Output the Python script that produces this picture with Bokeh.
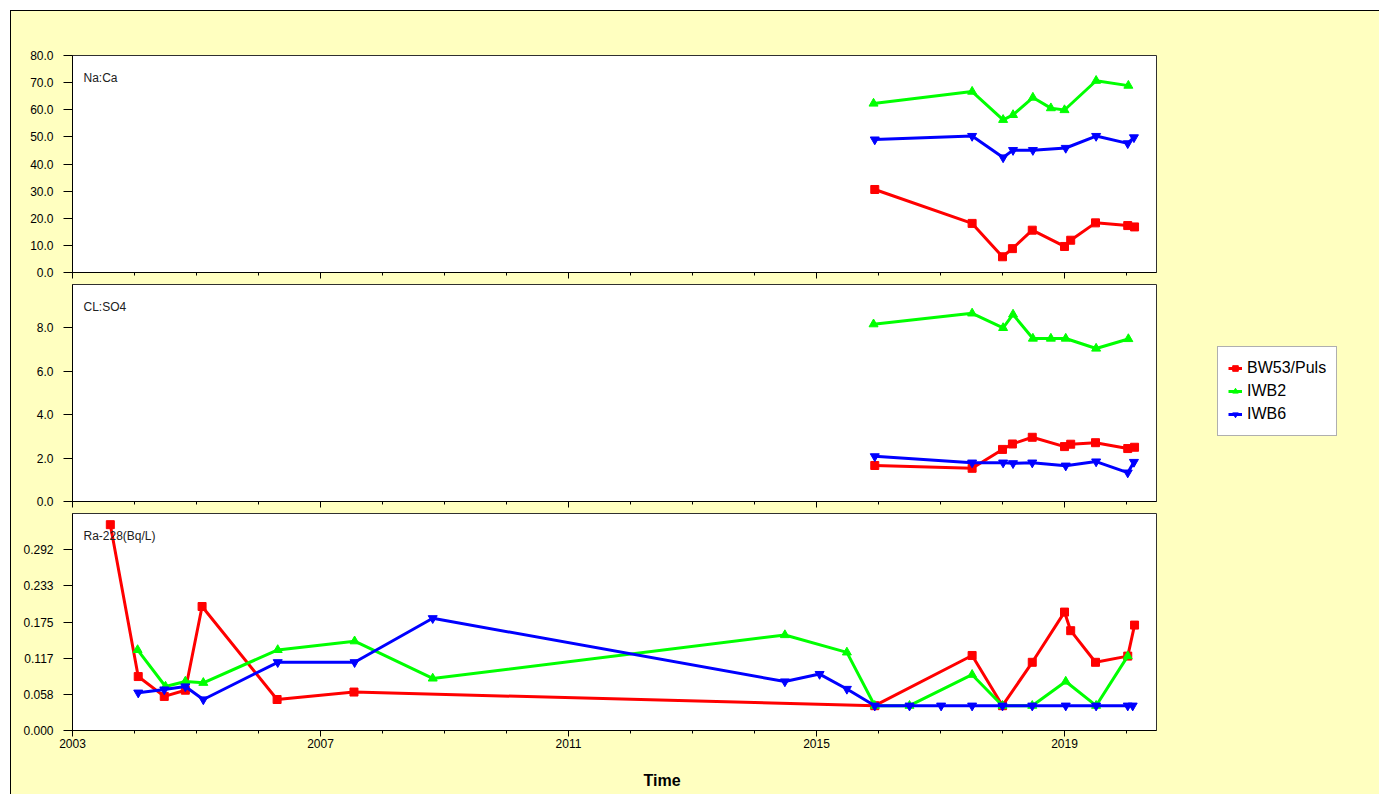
from bokeh.plotting import figure
from bokeh.models import (FixedTicker, NumeralTickFormatter, Range1d, Label, Legend, LegendItem,
                          Title, LinearAxis)
from bokeh.layouts import column
from bokeh.embed import file_html
from bokeh.resources import INLINE
import numpy as np

# ---------------- data (decimal years, values) ----------------
series_names = ["BW53/Puls", "IWB2", "IWB6"]
panel_titles = ["Na:Ca", "CL:SO4", "Ra-228(Bq/L)"]
x_tick_labels = [2003, 2007, 2011, 2015, 2019]

naca_bw53_t = [2015.94, 2017.51, 2018.00, 2018.16, 2018.48, 2019.00, 2019.10, 2019.50, 2020.02, 2020.13]
naca_bw53_v = [30.6, 18.1, 5.8, 8.8, 15.6, 9.6, 11.9, 18.3, 17.3, 16.8]
naca_iwb2_t = [2015.92, 2017.51, 2018.01, 2018.17, 2018.49, 2018.78, 2019.00, 2019.51, 2020.03]
naca_iwb2_v = [62.3, 66.7, 56.3, 58.1, 64.5, 60.6, 59.9, 70.7, 68.9]
naca_iwb6_t = [2015.94, 2017.51, 2018.01, 2018.17, 2018.49, 2019.02, 2019.51, 2020.02, 2020.12]
naca_iwb6_v = [49.0, 50.3, 42.4, 45.1, 45.1, 45.9, 50.3, 47.6, 49.8]

clso4_bw53_t = [2015.94, 2017.51, 2018.00, 2018.16, 2018.48, 2019.00, 2019.10, 2019.50, 2020.02, 2020.13]
clso4_bw53_v = [1.66, 1.53, 2.40, 2.65, 2.96, 2.53, 2.64, 2.71, 2.44, 2.50]
clso4_iwb2_t = [2015.92, 2017.51, 2018.01, 2018.17, 2018.49, 2018.78, 2019.02, 2019.51, 2020.03]
clso4_iwb2_v = [8.17, 8.67, 8.00, 8.62, 7.51, 7.51, 7.51, 7.05, 7.49]
clso4_iwb6_t = [2015.94, 2017.51, 2018.01, 2018.17, 2018.48, 2019.02, 2019.51, 2020.02, 2020.12]
clso4_iwb6_v = [2.08, 1.79, 1.79, 1.76, 1.79, 1.65, 1.84, 1.33, 1.82]

ra_bw53_t = [2003.61, 2004.06, 2004.48, 2004.82, 2005.09, 2006.30, 2007.54, 2015.94,
             2017.51, 2018.00, 2018.48, 2019.00, 2019.10, 2019.50, 2020.02, 2020.13]
ra_bw53_v = [0.332, 0.087, 0.055, 0.065, 0.200, 0.050, 0.062, 0.040,
             0.121, 0.040, 0.110, 0.191, 0.161, 0.110, 0.120, 0.170]
ra_iwb2_t = [2004.05, 2004.50, 2004.82, 2005.11, 2006.31, 2007.55, 2008.81, 2014.49, 2015.49,
             2015.94, 2016.50, 2017.51, 2018.00, 2018.48, 2019.02, 2019.51, 2020.02]
ra_iwb2_v = [0.130, 0.071, 0.079, 0.077, 0.130, 0.144, 0.084, 0.154, 0.126,
             0.040, 0.040, 0.090, 0.040, 0.040, 0.079, 0.040, 0.120]
ra_iwb6_t = [2004.06, 2004.48, 2004.82, 2005.11, 2006.31, 2007.55, 2008.81, 2014.49, 2015.05, 2015.49,
             2015.94, 2016.50, 2017.01, 2017.51, 2018.00, 2018.48, 2019.02, 2019.51, 2020.02, 2020.10]
ra_iwb6_v = [0.061, 0.066, 0.071, 0.050, 0.110, 0.110, 0.181, 0.079, 0.091, 0.067,
             0.040, 0.040, 0.040, 0.040, 0.040, 0.040, 0.040, 0.040, 0.040, 0.040]

# ---------------- style ----------------
BG = "#FFFFC0"
FONT = "Liberation Sans"
COLORS = ["#FF0000", "#00FF00", "#0000FF"]
MARKERS = ["square", "triangle", "inverted_triangle"]
MSIZE = [8, 9, 9]

FRAME_W, FRAME_H = 1084, 217
X0 = 2003.0
X1 = 2003.0 + FRAME_W / 62.0
RIGHT = 223


def make_fig(top, bottom, y_end, yticks, fmt, show_xlabels):
    p = figure(frame_width=FRAME_W, frame_height=FRAME_H,
               min_border_left=61, min_border_right=RIGHT,
               min_border_top=top, min_border_bottom=bottom,
               x_range=Range1d(X0, X1), y_range=Range1d(0, y_end),
               output_backend="svg", toolbar_location=None,
               background_fill_color="white", border_fill_color=BG,
               outline_line_color="#303030", outline_line_width=1)
    p.grid.visible = False
    ya = p.yaxis[0]
    ya.ticker = FixedTicker(ticks=list(yticks))
    ya.formatter = NumeralTickFormatter(format=fmt)
    ya.major_tick_out = 9
    ya.major_tick_in = 0
    ya.minor_tick_line_color = None
    ya.major_label_standoff = 10
    ya.major_label_text_font = FONT
    ya.major_label_text_font_size = "12px"
    ya.major_label_text_color = "#000000"
    ya.axis_line_color = "#000000"
    ya.major_tick_line_color = "#000000"

    xa = p.xaxis[0]
    xa.ticker = FixedTicker(ticks=x_tick_labels, minor_ticks=list(range(2003, 2021)))
    xa.major_tick_out = 6
    xa.major_tick_in = 0
    xa.minor_tick_out = 3
    xa.minor_tick_in = 0
    xa.axis_line_color = "#000000"
    xa.major_tick_line_color = "#000000"
    xa.minor_tick_line_color = "#000000"
    xa.major_label_text_font = FONT
    xa.major_label_text_color = "#000000"
    if show_xlabels:
        xa.major_label_text_font_size = "12px"
        xa.major_label_standoff = 2
    else:
        xa.major_label_overrides = {t: "" for t in x_tick_labels}
        xa.major_label_text_font_size = "1px"
        xa.major_label_standoff = 0
    return p


def add_series(p, ts, vs):
    rends = []
    for i in range(3):
        ln = p.line(ts[i], vs[i], line_color=COLORS[i], line_width=3)
        sc = p.scatter(ts[i], vs[i], marker=MARKERS[i], size=MSIZE[i],
                       fill_color=COLORS[i], line_color=COLORS[i])
        rends.append([ln, sc])
    return rends


def add_title(p, text):
    p.add_layout(Label(x=11, y=FRAME_H - 15, x_units="screen", y_units="screen",
                       text=text, text_font=FONT, text_font_size="12px",
                       text_color="#202020", text_baseline="top", text_align="left"))


p1 = make_fig(44, 11, 80, np.arange(0, 81, 10), "0.0", False)
add_series(p1, [naca_bw53_t, naca_iwb2_t, naca_iwb6_t], [naca_bw53_v, naca_iwb2_v, naca_iwb6_v])
add_title(p1, panel_titles[0])

p2 = make_fig(1, 11, 10, np.arange(0, 9, 2), "0.0", False)
r2 = add_series(p2, [clso4_bw53_t, clso4_iwb2_t, clso4_iwb6_t], [clso4_bw53_v, clso4_iwb2_v, clso4_iwb6_v])
add_title(p2, panel_titles[1])

ra_top = 0.35
p3 = make_fig(1, 64, ra_top, [ra_top * k / 6 for k in range(6)], "0.000", True)
add_series(p3, [ra_bw53_t, ra_iwb2_t, ra_iwb6_t], [ra_bw53_v, ra_iwb2_v, ra_iwb6_v])
add_title(p3, panel_titles[2])
# invisible spacer axis so that the "Time" title sits lower
spacer = LinearAxis(ticker=FixedTicker(ticks=[2003]), major_tick_out=19, major_tick_in=0,
                    minor_tick_out=0, minor_tick_in=0, major_label_standoff=0,
                    major_label_overrides={2003: ""},
                    axis_line_color=None, major_tick_line_color=None, minor_tick_line_color=None,
                    major_label_text_font_size="1px")
p3.add_layout(spacer, "below")
p3.add_layout(Title(text="Time", align="left", offset=571, text_font=FONT,
                    text_font_size="16px", text_font_style="bold", text_color="#000000",
                    standoff=0), "below")

legend = Legend(items=[LegendItem(label=series_names[i], renderers=r2[i]) for i in range(3)],
                location=(61, 65), orientation="vertical",
                label_text_font=FONT, label_text_font_size="16px", label_text_color="#000000",
                glyph_width=14, glyph_height=22, label_height=22, label_standoff=5,
                spacing=1, padding=10, margin=0,
                border_line_color="#606060", border_line_width=1.5,
                background_fill_color="white", background_fill_alpha=1.0)
p2.add_layout(legend, "right")

layout = column(p1, p2, p3, spacing=0, margin=(10, 0, 0, 10),
                styles={"border-left": "1px solid #000000", "border-top": "1px solid #000000",
                        "background-color": BG})

open("out.html", "w").write(file_html(layout, INLINE))
